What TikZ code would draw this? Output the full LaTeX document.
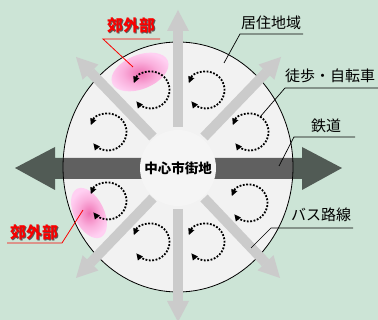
\documentclass[tikz,border=0pt]{standalone}
\usepackage{fontspec}
\setmainfont{Noto Sans CJK JP}
\usetikzlibrary{arrows.meta}
\definecolor{bg}{RGB}{204,228,214}
\definecolor{disc}{RGB}{242,242,242}
\definecolor{hub}{RGB}{245,245,245}
\definecolor{garrow}{RGB}{203,203,203}
\definecolor{pinkA}{RGB}{240,115,180}
\definecolor{pinkB}{RGB}{250,175,220}
\definecolor{pinkC}{RGB}{255,208,242}
\definecolor{redtxt}{RGB}{250,0,0}
\pgfdeclareradialshading{pinkblob}{\pgfpoint{0bp}{0bp}}{color(0bp)=(pinkA); color(14bp)=(pinkB); color(25bp)=(pinkC); color(50bp)=(pinkC)}
\begin{document}
\begin{tikzpicture}[x=1pt,y=-1pt,
  garr/.style={line width=10pt, draw=garrow, -{Triangle[length=21pt,width=22pt,line width=0pt]}},
  loop/.style={line width=1.8pt, dash pattern=on 1.8pt off 1.6pt,
     {Triangle[length=6.5pt,width=6.5pt,line width=0pt]}-{Triangle[length=6.5pt,width=6.5pt,line width=0pt]}},
  lead/.style={line width=0.7pt},
  redlead/.style={line width=0.8pt, draw=redtxt},
  lbl/.style={font=\fontsize{15}{18}\selectfont, inner sep=0pt},
  redlbl/.style={font=\fontsize{16}{19}\selectfont\bfseries, inner sep=0pt, text=redtxt},
  redshadow/.style={font=\fontsize{16}{19}\selectfont\bfseries, inner sep=0pt, text=black!65},
  hublbl/.style={font=\fontsize{13.5}{16}\selectfont\bfseries, inner sep=0pt}
]
\useasboundingbox (0,0) rectangle (378,320);
\fill[bg] (0,0) rectangle (378,320);

% city disc
\draw[fill=disc, line width=0.8pt] (178,167) ellipse [x radius=115, y radius=125];

% pink suburb blobs
\begin{scope}[shift={(140,72)}, rotate=22]
  \shade[shading=pinkblob] (0,0) ellipse [x radius=30, y radius=17];
\end{scope}
\begin{scope}[shift={(89,213)}, rotate=-64]
  \shade[shading=pinkblob] (0,0) ellipse [x radius=27, y radius=15];
\end{scope}

% light grey radial arrows
\coordinate (gN0) at (178,127);  \coordinate (gN1) at (178,10);
\coordinate (gS0) at (178,209);  \coordinate (gS1) at (178,322);
\coordinate (gNW0) at (153,137); \coordinate (gNW1) at (76,57);
\coordinate (gNE0) at (204,137); \coordinate (gNE1) at (281,57);
\coordinate (gSW0) at (153,198); \coordinate (gSW1) at (76,278);
\coordinate (gSE0) at (204,198); \coordinate (gSE1) at (280,278);
\foreach \d in {N,S,NW,NE,SW,SE} \draw[garr] (g\d0) -- (g\d1);

% dark railway arrow
\fill[black, opacity=0.6] (15,168) -- (55,147) -- (55,158) -- (302,158) -- (302,147)
  -- (342,168) -- (302,190) -- (302,179) -- (55,179) -- (55,190) -- cycle;

% city centre
\fill[hub] (178,168) circle [radius=38];
\node[hublbl] (hub) at (178,168) {中心市街地};

% dotted circulation loops
\coordinate (l1) at (151,90);  \coordinate (l2) at (206,90);
\coordinate (l3) at (108,132); \coordinate (l4) at (250,132);
\coordinate (l5) at (108,201); \coordinate (l6) at (249,203);
\coordinate (l7) at (151,242); \coordinate (l8) at (206,242);
\foreach \c in {l1,l2,l3,l4,l5,l6,l7,l8}
  \draw[loop] (\c) ++(-158:18.5) arc [start angle=-158, end angle=142, radius=18.5];

% labels
\node[lbl] (kyoju) at (271,23) {居住地域};
\coordinate (kyojuU) at (240,34); \coordinate (kyojuE) at (303,34); \coordinate (kyojuP) at (224,63);
\draw[lead] (kyojuP) -- (kyojuU) -- (kyojuE);

\node[lbl] (toho) at (330,76) {徒歩・自転車};
\coordinate (tohoU) at (285,88); \coordinate (tohoE) at (378,88); \coordinate (tohoP) at (260,117);
\draw[lead] (tohoP) -- (tohoU) -- (tohoE);

\node[lbl] (tetsu) at (326,126) {鉄道};
\coordinate (tetsuU) at (294,137); \coordinate (tetsuE) at (355,137); \coordinate (tetsuP) at (279,166);
\draw[lead] (tetsuP) -- (tetsuU) -- (tetsuE);

\node[lbl] (bus) at (321,215) {バス路線};
\coordinate (busU) at (271,228); \coordinate (busE) at (353,228); \coordinate (busP) at (251,248);
\draw[lead] (busP) -- (busU) -- (busE);

% suburb labels
\node[redshadow] at (132.2,26.2) {郊外部};
\node[redlbl] (kogai1) at (131,25) {郊外部};
\coordinate (k1U) at (103,39); \coordinate (k1E) at (160,39); \coordinate (k1P) at (133,67);
\draw[redlead] (k1P) -- (k1U) -- (k1E);

\node[redshadow] at (35.2,233.2) {郊外部};
\node[redlbl] (kogai2) at (34,232) {郊外部};
\coordinate (k2U) at (62,243); \coordinate (k2E) at (7,243); \coordinate (k2P) at (83,210);
\draw[redlead] (k2P) -- (k2U) -- (k2E);
\end{tikzpicture}
\end{document}
